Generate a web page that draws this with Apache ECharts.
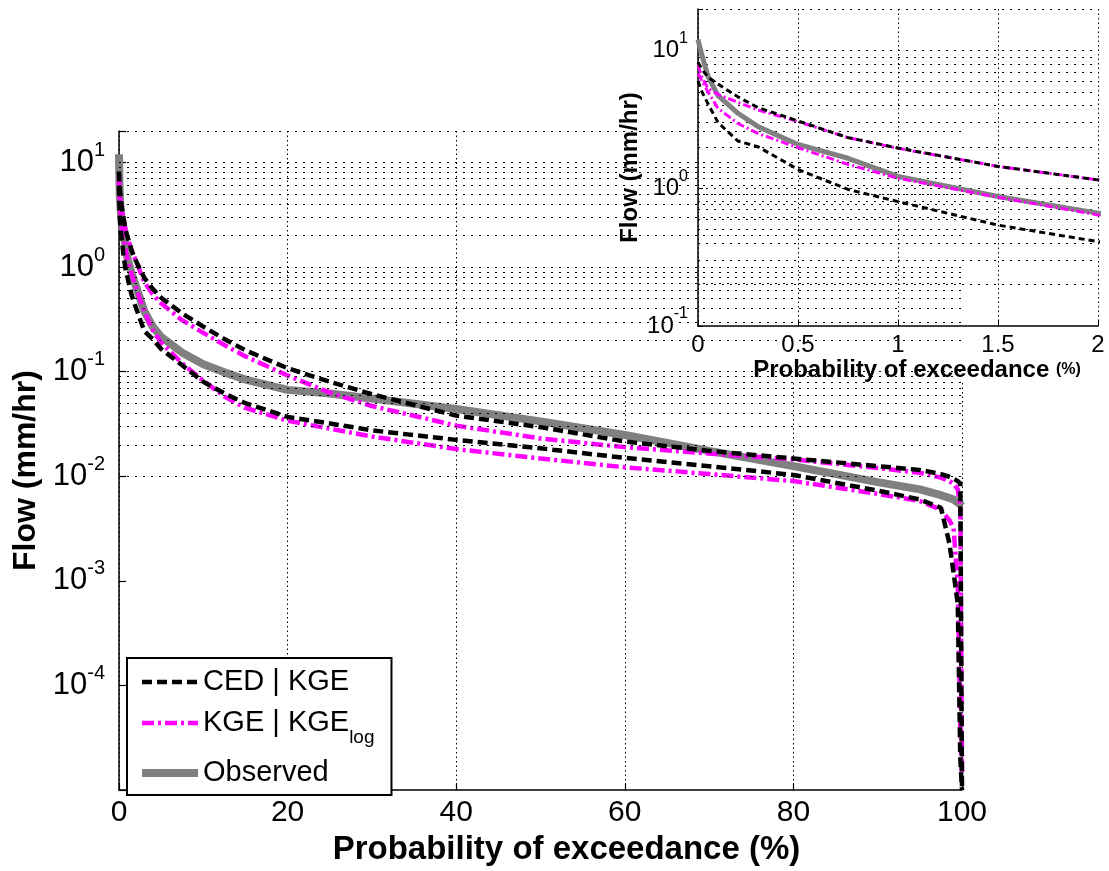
<!DOCTYPE html>
<html><head><meta charset="utf-8">
<script src="https://cdn.jsdelivr.net/npm/echarts@6/dist/echarts.min.js"></script>
<style>html,body{margin:0;padding:0;background:#fff}#c{width:1109px;height:871px}</style>
</head><body><div id="c"></div>
<script>
const FONT = "'Liberation Sans', Arial, Helvetica, sans-serif";

// Probability of exceedance (%)
const pct = [0, 0.02, 0.05, 0.1, 0.2, 0.3, 0.5, 0.75, 1, 1.5,
             2, 3, 4, 5, 7.5, 10, 12.5, 15, 20, 25,
             30, 40, 50, 60, 70, 80, 90, 95, 97.5, 98.5,
             99, 99.5, 99.8, 100];
// Flow (mm/hr)
const observed = [12, 9.2, 6.5, 4.7, 3.5, 2.8, 2.08, 1.65, 1.22, 0.87,
                  0.66, 0.38, 0.27, 0.215, 0.152, 0.118, 0.099, 0.084, 0.067, 0.062,
                  0.0555, 0.044, 0.0335, 0.0248, 0.0175, 0.0125, 0.0088, 0.0075, 0.0066, 0.0062,
                  0.006, 0.0056, 0.0054, 0.0052];
const cedUpper = [8.2, 7.3, 6.4, 5.7, 4.6, 3.85, 3.08, 2.33, 1.96, 1.44,
                  1.15, 0.79, 0.62, 0.51, 0.36, 0.27, 0.205, 0.16, 0.108, 0.08,
                  0.061, 0.038, 0.0295, 0.0215, 0.0175, 0.0148, 0.0125, 0.0115, 0.0105, 0.0099,
                  0.0095, 0.009, 0.0085, 0.00001];
const cedLower = [6.0, 5.0, 4.1, 3.0, 2.2, 2.0, 1.37, 0.98, 0.8, 0.54,
                  0.41, 0.245, 0.205, 0.165, 0.115, 0.08, 0.062, 0.05, 0.037, 0.032,
                  0.0275, 0.0223, 0.0185, 0.015, 0.0125, 0.0103, 0.0073, 0.006, 0.005, 0.0023,
                  0.0012, 0.0006, 0.00002, 0.00001];
const kgeUpper = [7.8, 6.4, 5.3, 4.8, 4.2, 3.7, 3.05, 2.33, 1.95, 1.44,
                  1.15, 0.72, 0.55, 0.45, 0.31, 0.235, 0.18, 0.14, 0.092, 0.063,
                  0.047, 0.0305, 0.023, 0.019, 0.0165, 0.0145, 0.012, 0.0108, 0.0097, 0.009,
                  0.0085, 0.0075, 0.005, 0.000015];
const kgeLower = [6.8, 6.0, 5.0, 3.8, 2.95, 2.5, 1.97, 1.49, 1.18, 0.86,
                  0.64, 0.38, 0.25, 0.19, 0.12, 0.082, 0.058, 0.045, 0.034, 0.0285,
                  0.024, 0.0182, 0.0148, 0.0122, 0.0105, 0.009, 0.0068, 0.0058, 0.0048, 0.0038,
                  0.0032, 0.0009, 0.00004, 0.000015];

const legendNames = ['CED | KGE', 'KGE | KGE_log', 'Observed'];
const mainYLabelExps = [1, 0, -1, -2, -3, -4];
const insetYLabelExps = [1, 0, -1];
const gridMultipliers = [1, 2, 3, 4, 5, 6, 7, 8, 9];
const mainDecades = [-5, -4, -3, -2, -1, 0, 1];
const insetDecades = [-1, 0, 1];

function gridValues(decades, lo, hi) {
  const out = [];
  decades.forEach(k => gridMultipliers.forEach(m => {
    const v = m * Math.pow(10, k);
    if (v > lo * 1.0001 && v <= hi * 1.0001) out.push(v);
  }));
  return out;
}
const mainGrid = gridValues(mainDecades, 1e-5, 20);
const insetGrid = gridValues(insetDecades, 0.1, 20);

function logFmt(allowed) {
  return function (v) {
    const e = Math.log10(v), r = Math.round(e);
    if (Math.abs(e - r) > 1e-6 || allowed.indexOf(r) < 0) return '';
    return '{b|10}{e|' + r + '}';
  };
}
const pairs = arr => pct.map((p, i) => [p, arr[i]]);

const C_BLACK = '#000000', C_MAG = '#ff00ff', C_GREY = '#808080';
const gridLineStyle = { color: '#000', type: [2, 6], width: 1 };

function gridSeries(xi, values, z) {
  return {
    type: 'line', xAxisIndex: xi, yAxisIndex: xi, data: [], z: z, silent: true,
    markLine: { silent: true, symbol: ['none', 'none'], label: { show: false }, animation: false,
      lineStyle: gridLineStyle, emphasis: { disabled: true },
      data: values.map(v => ({ yAxis: v })) }
  };
}
function curve(name, arr, xi, color, width, type, z) {
  return {
    name: name, type: 'line', xAxisIndex: xi, yAxisIndex: xi, data: pairs(arr),
    symbol: 'none', showSymbol: false, z: z, clip: true,
    lineStyle: { color: color, width: width, type: type },
    itemStyle: { color: color }, emphasis: { disabled: true }
  };
}

const chart = echarts.init(document.getElementById('c'), null, { renderer: 'canvas' });
chart.setOption({
  animation: false,
  backgroundColor: '#fff',
  textStyle: { fontFamily: FONT, color: '#000' },
  grid: [
    { left: 119, top: 131, right: 147, bottom: 74 },
    { left: 698, top: 9, right: 11, bottom: 545 }
  ],
  graphic: [
    { type: 'rect', left: 612, top: 0, shape: { width: 497, height: 380 }, style: { fill: '#fff' }, z: 3, silent: true }
  ],
  xAxis: [
    { gridIndex: 0, type: 'value', min: 0, max: 100, interval: 20,
      name: 'Probability of exceedance (%)', nameLocation: 'middle', nameGap: 36,
      nameTextStyle: { fontSize: 33, fontWeight: 'bold', fontFamily: FONT, color: '#000', padding: [0, 0, 0, 52] },
      axisLine: { lineStyle: { color: '#000', width: 1.5 } },
      axisTick: { inside: true, length: 7, lineStyle: { color: '#000', width: 1.2 } },
      axisLabel: { fontSize: 30, fontFamily: FONT, color: '#000', margin: 8 },
      splitLine: { show: true, lineStyle: { color: '#000', type: [1.5, 3], width: 1 } } },
    { gridIndex: 1, type: 'value', min: 0, max: 2, interval: 0.5, z: 5,
      name: 'Probability of exceedance {s|(%)}', nameLocation: 'middle', nameGap: 29,
      nameTextStyle: { fontSize: 24, fontWeight: 'bold', fontFamily: FONT, color: '#000', padding: [0, 0, 0, 38],
        rich: { s: { fontSize: 16, fontWeight: 'bold', fontFamily: FONT, color: '#000' } } },
      axisLine: { lineStyle: { color: '#000', width: 1.5 } },
      axisTick: { inside: true, length: 5, lineStyle: { color: '#000', width: 1 } },
      axisLabel: { fontSize: 24, fontFamily: FONT, color: '#000', margin: 7 },
      splitLine: { show: true, lineStyle: { color: '#000', type: [1.5, 3], width: 1 } } }
  ],
  yAxis: [
    { gridIndex: 0, type: 'log', logBase: 10, min: 1e-5, max: 20,
      name: 'Flow (mm/hr)', nameLocation: 'middle', nameGap: 72,
      nameTextStyle: { fontSize: 32, fontWeight: 'bold', fontFamily: FONT, color: '#000', padding: [0, 20, 0, 0] },
      axisLine: { show: true, lineStyle: { color: '#000', width: 1.5 } },
      axisTick: { show: true, inside: true, length: 7, lineStyle: { color: '#000', width: 1.2 } },
      splitLine: { show: false },
      axisLabel: { margin: 14, formatter: logFmt(mainYLabelExps),
        rich: {
          b: { fontSize: 31, fontFamily: FONT, color: '#000', lineHeight: 44, verticalAlign: 'middle' },
          e: { fontSize: 20, fontFamily: FONT, color: '#000', lineHeight: 20, verticalAlign: 'top' }
        } } },
    { gridIndex: 1, type: 'log', logBase: 10, min: 0.1, max: 20, z: 5,
      name: 'Flow (mm/hr)', nameLocation: 'middle', nameGap: 56,
      nameTextStyle: { fontSize: 24, fontWeight: 'bold', fontFamily: FONT, color: '#000' },
      axisLine: { show: true, lineStyle: { color: '#000', width: 1.5 } },
      axisTick: { show: true, inside: true, length: 5, lineStyle: { color: '#000', width: 1 } },
      splitLine: { show: false },
      axisLabel: { margin: 10, formatter: logFmt(insetYLabelExps),
        rich: {
          b: { fontSize: 24, fontFamily: FONT, color: '#000', lineHeight: 40, verticalAlign: 'middle' },
          e: { fontSize: 16, fontFamily: FONT, color: '#000', lineHeight: 16, verticalAlign: 'top' }
        } } }
  ],
  legend: {
    orient: 'vertical', left: 127, top: 658, padding: [9, 17, 7, 11], itemGap: 11,
    itemWidth: 56, itemHeight: 30, backgroundColor: '#fff', borderColor: '#000', borderWidth: 2,
    selectedMode: false,
    itemStyle: { opacity: 0 },
    lineStyle: { width: 'inherit' },
    data: legendNames,
    formatter: function (name) {
      if (name === 'KGE | KGE_log') return '{base|KGE | KGE}{sub|log}';
      return '{base|' + name + '}';
    },
    textStyle: { fontSize: 29, fontFamily: FONT, color: '#000', lineHeight: 30,
      rich: {
        base: { fontSize: 29, fontFamily: FONT, color: '#000', lineHeight: 30, verticalAlign: 'middle' },
        sub: { fontSize: 19, fontFamily: FONT, color: '#000', lineHeight: 19, padding: [20, 0, 0, 0], verticalAlign: 'top' }
      } }
  },
  series: [
    gridSeries(0, mainGrid, 1),
    curve('Observed', observed, 0, C_GREY, 8, 'solid', 2),
    curve('KGE | KGE_log', kgeUpper, 0, C_MAG, 4.5, [12, 4, 3, 4], 2),
    curve('KGE | KGE_log', kgeLower, 0, C_MAG, 4.5, [12, 4, 3, 4], 2),
    curve('CED | KGE', cedUpper, 0, C_BLACK, 4.5, [10, 5], 2),
    curve('CED | KGE', cedLower, 0, C_BLACK, 4.5, [10, 5], 2),
    gridSeries(1, insetGrid, 5),
    curve('Observed', observed, 1, C_GREY, 5, 'solid', 6),
    curve('KGE | KGE_log', kgeUpper, 1, C_MAG, 3, [8, 3, 2, 3], 6),
    curve('KGE | KGE_log', kgeLower, 1, C_MAG, 3, [8, 3, 2, 3], 6),
    curve('CED | KGE', cedUpper, 1, C_BLACK, 3, [6, 4], 6),
    curve('CED | KGE', cedLower, 1, C_BLACK, 3, [6, 4], 6)
  ]
});
</script>
</body></html>
